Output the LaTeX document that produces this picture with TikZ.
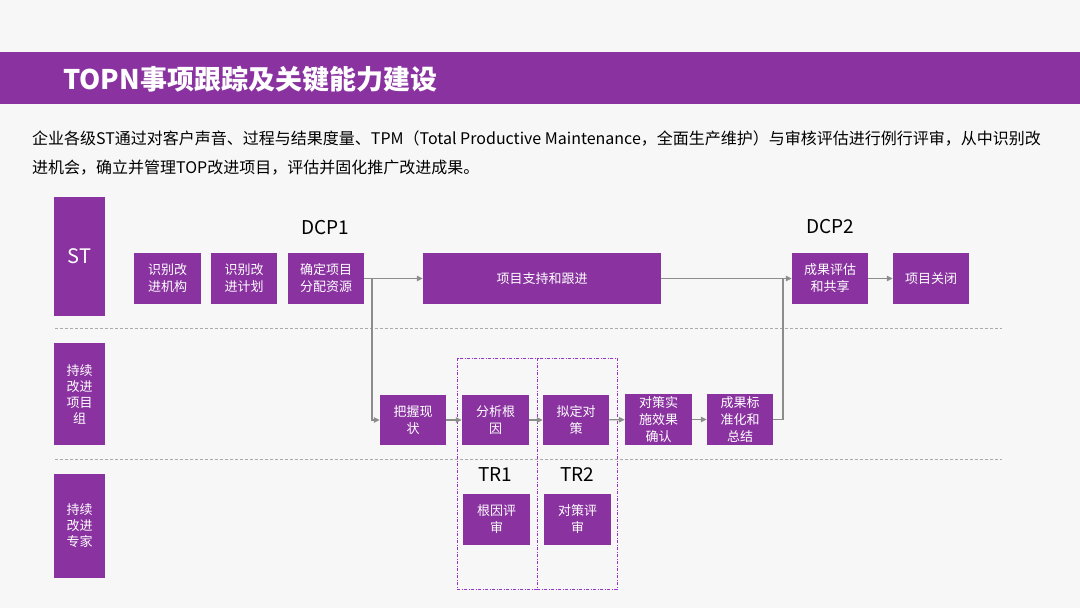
\documentclass[tikz,border=0pt]{standalone}
\usepackage{fontspec}
\setmainfont{Noto Sans CJK SC}
\usetikzlibrary{arrows.meta}
\definecolor{topnpurple}{HTML}{8932A0}
\definecolor{linegray}{HTML}{8C8C8C}
\definecolor{sepgray}{HTML}{AAAAAA}
\definecolor{pagegray}{HTML}{F7F7F7}
\definecolor{gatepurple}{HTML}{9933CC}
\tikzset{
  box/.style={fill=topnpurple,text=white,font=\fontsize{13}{17}\selectfont,
    align=center,inner sep=0pt,minimum width=67pt,minimum height=51pt},
  lane/.style={box,minimum width=51pt,font=\fontsize{13}{16}\selectfont},
  gate/.style={font=\fontsize{19}{22}\selectfont,inner sep=0pt},
  conn/.style={draw=linegray,line width=1.1pt},
  flow/.style={conn,-{Triangle[length=6pt,width=5.5pt]}},
  sep/.style={draw=sepgray,line width=.9pt,dash pattern=on 3pt off 2pt},
  review/.style={draw=gatepurple,line width=1pt,dash pattern=on 3pt off 1.5pt on 1pt off 1.5pt}
}
\begin{document}
\begin{tikzpicture}[x=1pt,y=-1pt,line cap=butt]
  \fill[pagegray] (0,0) rectangle (1080,608);
  \useasboundingbox (0,0) rectangle (1080,608);
  % title bar and lead text
  \fill[topnpurple] (0,52) rectangle (1080,104);
  \node[anchor=west,inner sep=0pt,text=white,font=\fontsize{27}{30}\selectfont\bfseries]
    (title) at (63,79) {TOPN事项跟踪及关键能力建设};
  \node[anchor=north west,inner sep=0pt,align=left,font=\fontsize{16}{29}\selectfont]
    (lead) at (32,131) {企业各级ST通过对客户声音、过程与结果度量、TPM（Total Productive Maintenance，全面生产维护）与审核评估进行例行评审，从中识别改\\
    进机会，确立并管理TOP改进项目，评估并固化推广改进成果。};
  % swim lanes
  \node[lane,minimum height=119pt,font=\fontsize{20}{24}\selectfont] (st) at (79.5,256.5) {ST};
  \node[lane,minimum height=102pt] (team) at (79.5,394) {持续\\改进\\项目\\组};
  \node[lane,minimum height=104pt] (expert) at (79.5,526) {持续\\改进\\专家};
  \draw[sep] (55,328) -- (1002,328);
  \draw[sep] (55,459) -- (1002,459);
  % technical review windows
  \draw[review] (457,358) rectangle (537,589);
  \draw[review] (537,358) rectangle (617,589);
  % ST lane
  \node[box] (org) at (167.5,278) {识别改\\进机构};
  \node[box,minimum width=66pt] (plan) at (244,278) {识别改\\进计划};
  \node[box,minimum width=76pt] (confirm) at (326,278.5) {确定项目\\分配资源};
  \node[box,minimum width=238pt] (support) at (542,278.5) {项目支持和跟进};
  \node[box,minimum width=76pt] (share) at (830,278.5) {成果评估\\和共享};
  \node[box,minimum width=76pt] (close) at (931,278.5) {项目关闭};
  \node[gate] (dcp1) at (325,228) {DCP1};
  \node[gate] (dcp2) at (830,227) {DCP2};
  % project team lane
  \node[box,minimum width=66pt,minimum height=50pt] (grasp) at (413,420) {把握现\\状};
  \node[box,minimum height=50pt] (analyse) at (495.5,420) {分析根\\因};
  \node[box,minimum width=66pt,minimum height=50pt] (decide) at (576,420) {拟定对\\策};
  \node[box] (implement) at (658.5,419.5) {对策实\\施效果\\确认};
  \node[box,minimum width=66pt] (standard) at (740,419.5) {成果标\\准化和\\总结};
  % expert lane
  \node[gate] (tr1) at (495,475) {TR1};
  \node[gate] (tr2) at (577,475) {TR2};
  \node[box] (review1) at (496.5,519.5) {根因评\\审};
  \node[box] (review2) at (577.5,519.5) {对策评\\审};
  % connectors
  \coordinate (split) at (372,278.5);
  \coordinate (merge) at (783,278.5);
  \draw[flow] (confirm) -- (support);
  \draw[flow] (split) |- (grasp);
  \foreach \a/\b in {grasp/analyse,analyse/decide,decide/implement,implement/standard}
    \draw[flow] (\a) -- (\b);
  \draw[conn] (standard.east) -| (merge);
  \draw[flow] (support) -- (share);
  \draw[flow] (share) -- (close);
\end{tikzpicture}
\end{document}
